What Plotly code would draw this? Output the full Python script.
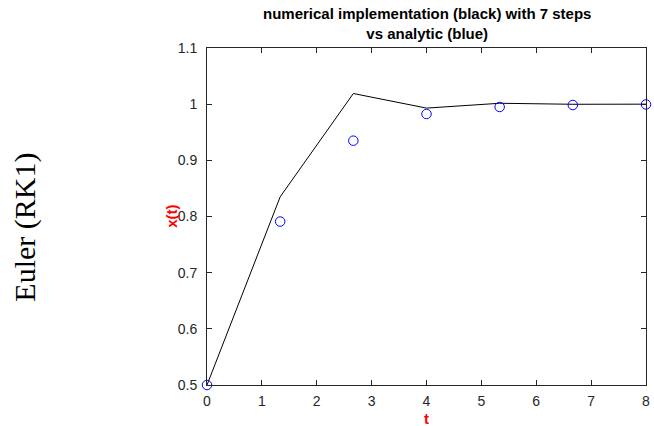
import plotly.graph_objects as go

t_vals = [0, 4/3, 8/3, 4, 16/3, 20/3, 8]
x_numeric = [0.5, 0.835, 1.019, 0.993, 1.0016, 0.9998, 1.0]
x_analytic = [0.5, 0.791, 0.935, 0.9825, 0.995, 0.9985, 0.9995]
x_ticks = [0, 1, 2, 3, 4, 5, 6, 7, 8]
y_ticks = [0.5, 0.6, 0.7, 0.8, 0.9, 1.0, 1.1]
y_tick_labels = ["0.5", "0.6", "0.7", "0.8", "0.9", "1", "1.1"]

axis_col = "#262626"
fig = go.Figure()
fig.add_trace(go.Scatter(x=t_vals, y=x_numeric, mode="lines",
                         line=dict(color="black", width=1), showlegend=False))
fig.add_trace(go.Scatter(x=t_vals, y=x_analytic, mode="markers",
                         marker=dict(symbol="circle-open", size=9.5, color="blue",
                                     line=dict(color="blue", width=1)),
                         showlegend=False, cliponaxis=False))

fig.update_layout(
    width=654, height=426,
    margin=dict(l=207, r=4, t=48, b=41),
    paper_bgcolor="white", plot_bgcolor="white",
    font=dict(family="Liberation Sans, Arial, sans-serif", size=14, color=axis_col),
    xaxis=dict(range=[0, 8], tickvals=x_ticks, ticks="inside", ticklen=5,
               showline=True, linecolor=axis_col, linewidth=1, mirror="ticks",
               showgrid=False, zeroline=False, tickcolor=axis_col,
               ticklabelstandoff=3, ticklabeloverflow="allow"),
    yaxis=dict(range=[0.5, 1.1], tickvals=y_ticks, ticktext=y_tick_labels,
               ticks="inside", ticklen=5,
               showline=True, linecolor=axis_col, linewidth=1, mirror="ticks",
               showgrid=False, zeroline=False, tickcolor=axis_col,
               ticklabelstandoff=6, ticklabeloverflow="allow"),
    annotations=[
        dict(text="<b>numerical implementation (black) with 7 steps<br>vs analytic (blue)</b>",
             xref="paper", yref="paper", x=0.5, y=1 + 4/337, yanchor="bottom",
             showarrow=False, font=dict(size=15, color="black")),
        dict(text="<b>t</b>", xref="paper", yref="paper", x=0.5, y=-33/337,
             yanchor="middle", showarrow=False, font=dict(size=15, color="red")),
        dict(text="<b>x(t)</b>", xref="paper", yref="paper", x=-36/443, y=0.5,
             xanchor="center", yanchor="middle", textangle=-90,
             showarrow=False, font=dict(size=15, color="red")),
        dict(text="Euler (RK1)", xref="paper", yref="paper", x=-184/443,
             y=(385-227)/337, xanchor="center", yanchor="middle", textangle=-90,
             showarrow=False,
             font=dict(family="Liberation Serif, Times New Roman, serif", size=30,
                       color="black")),
    ],
)
fig.write_html("out.html")
